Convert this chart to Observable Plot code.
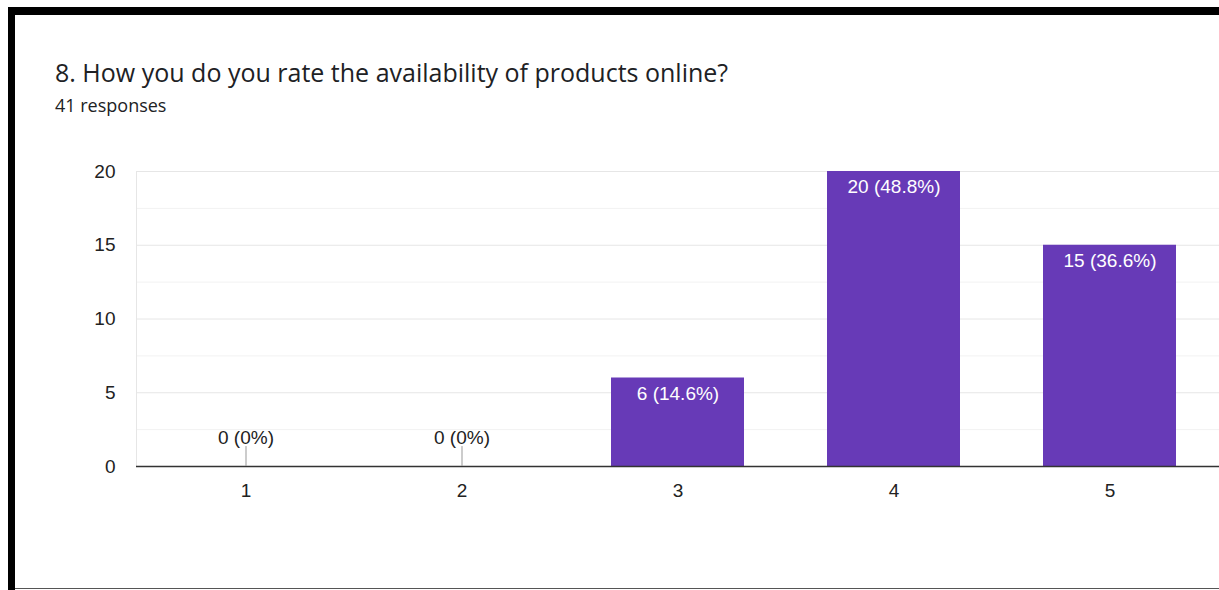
<!DOCTYPE html>
<html>
<head>
<meta charset="utf-8">
<script src="https://cdn.jsdelivr.net/npm/d3@7"></script>
<script src="https://cdn.jsdelivr.net/npm/@observablehq/plot@0.6"></script>
<style>
  html, body { margin: 0; padding: 0; background: #fff; }
  #page { position: relative; width: 1219px; height: 590px; overflow: hidden; background: #fff; }
  .bar-top { position: absolute; left: 8px; top: 7px; width: 1211px; height: 8px; background: #000; }
  .bar-left { position: absolute; left: 8px; top: 7px; width: 7px; height: 583px; background: #000; }
  .line-bottom { position: absolute; left: 15px; top: 588px; width: 1204px; height: 1px; background: #555; }
  #title { position: absolute; left: 55px; top: 55px; font-family: "Open Sans", Roboto, sans-serif; font-size: 25px; color: #202124; white-space: nowrap; }
  #subtitle { position: absolute; left: 55px; top: 93px; font-family: "Open Sans", Roboto, sans-serif; font-size: 18px; color: #202124; white-space: nowrap; }
  #chart { position: absolute; left: 0; top: 150px; }
</style>
</head>
<body>
<div id="page">
  <div class="bar-top"></div>
  <div class="bar-left"></div>
  <div class="line-bottom"></div>
  <div id="title">8. How you do you rate the availability of products online?</div>
  <div id="subtitle">41 responses</div>
  <div id="chart"></div>
</div>
<script>
const ratings = ["1", "2", "3", "4", "5"];
const counts = [0, 0, 6, 20, 15];
const totalResponses = 41;
const yTicks = [0, 5, 10, 15, 20];
const yMinorTicks = [2.5, 7.5, 12.5, 17.5];
const barColor = "#673ab7";

const pct = v => `${+(v * 100).toFixed(1)}%`;
const data = ratings.map((r, i) => ({
  rating: r,
  count: counts[i],
  label: `${counts[i]} (${pct(counts[i] / totalResponses)})`
}));
const nonZero = data.filter(d => d.count > 0);
const zeros = data.filter(d => d.count === 0);

const chart = Plot.plot({
  width: 1219,
  height: 438,
  marginTop: 21,
  marginBottom: 122,
  marginLeft: 136,
  marginRight: 0,
  style: { fontFamily: "'Liberation Sans', Arial, sans-serif", fontSize: "19px", color: "#222", background: "transparent" },
  x: { domain: ratings, paddingInner: 0.385, paddingOuter: 0.1925, label: null, tickSize: 0, tickPadding: 17 },
  y: { domain: [0, 20], ticks: yTicks, label: null, tickSize: 0, tickPadding: 21 },
  marks: [
    Plot.ruleY(yMinorTicks, { stroke: "#f2f2f2" }),
    Plot.ruleY(yTicks.slice(1), { stroke: "#e6e6e6" }),
    Plot.frame({ anchor: "left", stroke: "#e6e6e6" }),
    Plot.barY(data, { x: "rating", y: "count", fill: barColor }),
    Plot.ruleY([0], { stroke: "#333", strokeWidth: 1.5 }),
    Plot.text(nonZero, { x: "rating", y: "count", text: "label", fill: "white", lineAnchor: "top", dy: 8, fontSize: 19 }),
    Plot.ruleX(zeros, { x: "rating", y1: 0, y2: 1.35, stroke: "#999" }),
    Plot.text(zeros, { x: "rating", y: "count", text: "label", fill: "#222", dy: -29, fontSize: 19 })
  ]
});
document.getElementById("chart").appendChild(chart);
</script>
</body>
</html>
